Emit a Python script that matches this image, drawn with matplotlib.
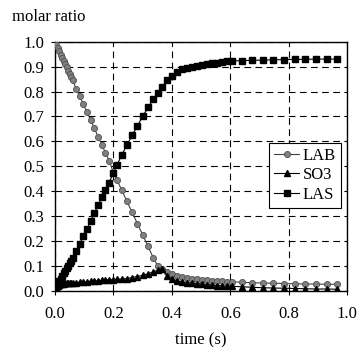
import matplotlib
matplotlib.use("Agg")
import matplotlib.pyplot as plt

plt.rcParams['font.family'] = ['Liberation Serif', 'DejaVu Serif']

# time grid (s)
time = [0.000, 0.005, 0.010, 0.015, 0.020, 0.025, 0.030, 0.035, 0.040, 0.045, 0.050, 0.055, 0.060,
        0.0725, 0.085, 0.0975, 0.110, 0.1225, 0.135, 0.1475, 0.160, 0.1725, 0.185, 0.200,
        0.212, 0.228, 0.246, 0.264, 0.282, 0.300, 0.318, 0.336, 0.352, 0.366,
        0.383, 0.400, 0.418, 0.435, 0.452, 0.469, 0.486, 0.503, 0.520, 0.537, 0.554, 0.571, 0.588, 0.604,
        0.638, 0.675, 0.711, 0.747, 0.784, 0.820, 0.856, 0.892, 0.930, 0.966]

lab = [1.000, 0.987, 0.974, 0.961, 0.948, 0.936, 0.923, 0.910, 0.897, 0.884, 0.871, 0.858, 0.845,
       0.812, 0.780, 0.748, 0.716, 0.684, 0.652, 0.619, 0.587, 0.555, 0.523, 0.474,
       0.445, 0.405, 0.360, 0.315, 0.270, 0.225, 0.180, 0.133, 0.100, 0.088,
       0.077, 0.068, 0.061, 0.056, 0.053, 0.050, 0.047, 0.045, 0.043, 0.042, 0.040, 0.039, 0.038, 0.037,
       0.035, 0.033, 0.032, 0.031, 0.030, 0.029, 0.028, 0.028, 0.027, 0.027]

so3 = [0.000, 0.014, 0.022, 0.026, 0.028, 0.029, 0.030, 0.031, 0.031, 0.032, 0.032, 0.033, 0.033,
       0.034, 0.035, 0.036, 0.038, 0.039, 0.040, 0.041, 0.043, 0.044, 0.045, 0.046,
       0.047, 0.048, 0.050, 0.054, 0.058, 0.063, 0.069, 0.076, 0.084, 0.090,
       0.062, 0.048, 0.041, 0.037, 0.034, 0.032, 0.030, 0.028, 0.026, 0.024, 0.022, 0.021, 0.020, 0.019,
       0.017, 0.015, 0.013, 0.012, 0.011, 0.010, 0.009, 0.008, 0.008, 0.007]

las = [0.000, 0.014, 0.028, 0.040, 0.050, 0.060, 0.071, 0.082, 0.092, 0.102, 0.112, 0.122, 0.132,
       0.160, 0.190, 0.220, 0.250, 0.282, 0.313, 0.345, 0.375, 0.405, 0.435, 0.474,
       0.505, 0.545, 0.585, 0.624, 0.663, 0.700, 0.736, 0.768, 0.796, 0.818,
       0.845, 0.864, 0.878, 0.890, 0.895, 0.899, 0.903, 0.907, 0.910, 0.913, 0.916, 0.919, 0.921, 0.922,
       0.924, 0.925, 0.926, 0.927, 0.928, 0.929, 0.929, 0.930, 0.930, 0.930]

x_ticks = [0.0, 0.2, 0.4, 0.6, 0.8, 1.0]
y_ticks = [0.0, 0.1, 0.2, 0.3, 0.4, 0.5, 0.6, 0.7, 0.8, 0.9, 1.0]

fs = 12

fig = plt.figure(figsize=(3.57, 3.47), dpi=100)
ax = fig.add_axes([0.154, 0.1614, 0.819, 0.7186])

ax.plot(time, lab, color='#404040', lw=0.8, marker='o', ms=4.4,
        mfc='#808080', mec='#505050', mew=0.6, label='LAB', zorder=3)
ax.plot(time, so3, color='black', lw=0.8, marker='^', ms=4.6,
        mfc='black', mec='black', label='SO3', zorder=4)
ax.plot(time, las, color='black', lw=0.8, marker='s', ms=4.2,
        mfc='black', mec='black', label='LAS', zorder=5)

ax.set_xlim(0, 1.0)
ax.set_ylim(0, 1.0)
ax.set_xticks(x_ticks)
ax.set_yticks(y_ticks)
ax.set_xticklabels([f'{v:.1f}' for v in x_ticks])
ax.set_yticklabels([f'{v:.1f}' for v in y_ticks])
ax.tick_params(direction='out', length=3, width=0.8, labelsize=fs, colors='black', pad=5)
ax.tick_params(axis='x', pad=8)
ax.grid(True, color='black', lw=0.8, linestyle=(0, (6, 4)))
for s in ax.spines.values():
    s.set_linewidth(1.0)
    s.set_color('black')

ax.set_xlabel('time (s)', fontsize=fs, labelpad=7)
fig.text(0.033, 0.95, 'molar ratio', fontsize=fs, ha='left', va='center')

leg = ax.legend(loc='upper right', bbox_to_anchor=(0.978, 0.594), borderaxespad=0,
                fontsize=fs, frameon=True, fancybox=False, shadow=False,
                handlelength=1.5, handletextpad=0.2, labelspacing=0.2,
                borderpad=0.3)
leg.get_frame().set_edgecolor('black')
leg.get_frame().set_linewidth(0.8)
leg.get_frame().set_alpha(1.0)

fig.savefig('out.png', dpi=100)
